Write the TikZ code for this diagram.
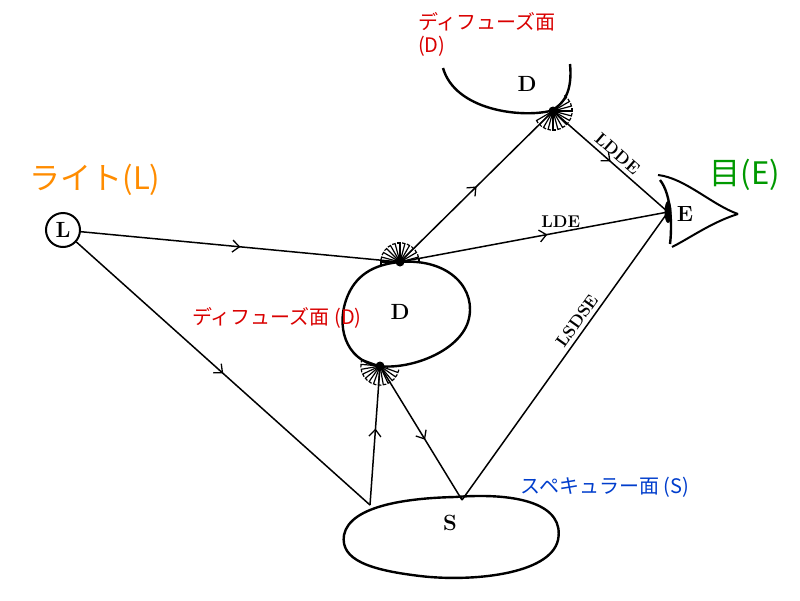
\documentclass[tikz,border=0pt]{standalone}
\usepackage{fontspec}
\newfontfamily\jpfont{Noto Sans CJK JP}
\usetikzlibrary{arrows.meta, decorations.markings, positioning}

\tikzset{
  ray/.style={line width=1.5pt, postaction={decorate}, decoration={markings,
    mark=at position #1 with {\arrow{Straight Barb[length=7pt, width=12pt, line width=1.3pt]}}}},
  ray/.default=0.5,
  surf/.style={line width=2.4pt},
  lbl/.style={font=\bfseries\fontsize{22}{24}\selectfont},
  path lbl/.style={font=\bfseries\fontsize{17}{19}\selectfont, inner sep=1pt},
  jp/.style={font=\jpfont\fontsize{20}{23}\selectfont, inner sep=1pt},
}
% fan of scattered rays
\newcommand{\fan}[2]{%
  \fill (#1) circle (4.5pt);
  \foreach \a in {#2}
    \draw[line width=1.2pt] (#1) -- ++(\a:19pt) -- ++(\a+90:3pt);
}

\begin{document}
\begin{tikzpicture}[x=1pt, y=-1pt]
\useasboundingbox (0,0) rectangle (800,600);

% light
\node[circle, draw, line width=2pt, minimum size=34pt, lbl, inner sep=0pt] (L) at (63,230) {L};
\node[jp, text=orange!90!yellow, font=\jpfont\fontsize{31}{34}\selectfont] (lt) at (95,180) {ライト(L)};

% diffuse surface (middle)
\draw[surf] (400,262) .. controls (450,258) and (478,290) .. (468,322)
  .. controls (458,352) and (410,370) .. (378,366)
  .. controls (345,360) and (335,325) .. (348,295)
  .. controls (358,272) and (378,264) .. (400,262);
\node[lbl] (D1) at (400,312) {D};
\coordinate (d1t) at (400,262);
\coordinate (d1b) at (380,366);
\node[jp, text=red!85!black] (d1lbl) at (277,318) {ディフューズ面 (D)};

% diffuse surface (top)
\draw[surf] (443,68) .. controls (455,110) and (520,118) .. (550,111)
  .. controls (568,103) and (572,85) .. (570,64);
\node[lbl] (D2) at (527,84) {D};
\coordinate (d2) at (553,111);
\node[jp, text=red!85!black, align=left] (d2lbl) at (487,34) {ディフューズ面\\(D)};

% specular surface
\draw[surf] (455,497) .. controls (520,492) and (565,505) .. (558,540)
  .. controls (550,575) and (470,582) .. (420,576)
  .. controls (370,570) and (340,560) .. (344,535)
  .. controls (350,505) and (410,498) .. (455,497);
\node[lbl] (S) at (450,523) {S};
\coordinate (s1) at (370,505);
\coordinate (s2) at (462,500);
\node[jp, text=blue!70!cyan!80!black] (slbl) at (605,487) {スペキュラー面 (S)};

% eye
\coordinate (e) at (668,212);
\draw[surf] (660,180) .. controls (672,195) and (672,228) .. (670,244);
\draw[line width=2pt] (658,175) .. controls (685,178) and (712,205) .. (738,214);
\draw[line width=2pt] (672,247) .. controls (690,238) and (712,222) .. (738,214);
\fill (668,212) ellipse (3.5pt and 11pt);
\node[lbl] (E) at (685,214) {E};
\node[jp, text=green!60!black, font=\jpfont\fontsize{31}{34}\selectfont] (el) at (745,175) {目(E)};

% fans
\fan{d1t}{0,15,...,180}
\fan{d1b}{-200,-185,...,-20}
\fan{d2}{-150,-135,...,45}

% rays
\draw[ray=0.5] (L) -- (d1t);
\draw[ray=0.5] (L) -- (s1);
\draw[ray=0.5] (d1t) -- (d2);
\draw[ray=0.55] (d1t) -- node[pos=0.6, above=3pt, path lbl] {LDE} (e);
\draw[ray=0.5] (d2) -- node[pos=0.5, above=3pt, sloped, path lbl] {LDDE} (e);
\draw[line width=1.5pt] (s2) -- node[pos=0.6, above=3pt, sloped, path lbl] {LSDSE} (e);
\draw[ray=0.55] (s1) -- (d1b);
\draw[ray=0.55] (d1b) -- (s2);
\end{tikzpicture}
\end{document}
